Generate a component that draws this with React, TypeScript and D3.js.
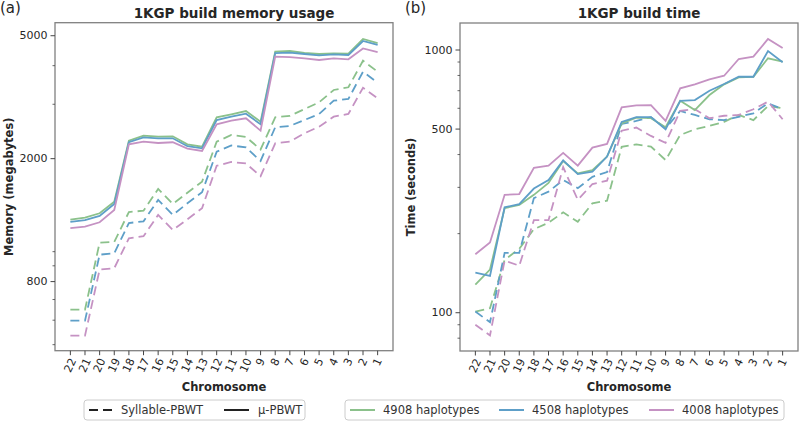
import React from 'react';
import * as d3 from 'd3';

// chromosomes, left to right
const chromosomes = ['22', '21', '20', '19', '18', '17', '16', '15', '14', '13', '12', '11', '10', '9', '8', '7', '6', '5', '4', '3', '2', '1'];

// memory (megabytes)
const memMu4908 = [1269, 1289, 1331, 1451, 2287, 2374, 2356, 2363, 2226, 2187, 2723, 2784, 2853, 2634, 4439, 4462, 4396, 4364, 4387, 4374, 4880, 4736];
const memMu4508 = [1248, 1264, 1305, 1427, 2260, 2345, 2328, 2328, 2194, 2161, 2668, 2735, 2797, 2584, 4396, 4410, 4364, 4322, 4350, 4332, 4808, 4667];
const memMu4008 = [1191, 1205, 1245, 1365, 2226, 2270, 2248, 2260, 2155, 2118, 2584, 2655, 2702, 2464, 4277, 4265, 4226, 4173, 4226, 4195, 4547, 4429];
const memSyl4908 = [649, 649, 1070, 1075, 1344, 1357, 1596, 1427, 1552, 1685, 2270, 2386, 2351, 2142, 2723, 2750, 2895, 3044, 3337, 3405, 4151, 3824];
const memSyl4508 = [598, 598, 978, 988, 1238, 1254, 1470, 1315, 1434, 1557, 2107, 2207, 2174, 1966, 2527, 2552, 2668, 2791, 3081, 3120, 3824, 3524];
const memSyl4008 = [535, 535, 875, 884, 1105, 1122, 1315, 1176, 1273, 1382, 1898, 1951, 1930, 1755, 2243, 2270, 2417, 2538, 2735, 2791, 3394, 3137];

// build time (seconds)
const timeMu4908 = [128, 146, 250, 257, 281, 312, 378, 339, 349, 393, 525, 553, 550, 508, 641, 591, 674, 740, 787, 791, 930, 903];
const timeMu4508 = [142, 138, 252, 259, 297, 320, 380, 337, 344, 393, 532, 555, 555, 499, 640, 645, 700, 742, 791, 791, 991, 898];
const timeMu4008 = [167, 185, 281, 283, 356, 363, 406, 363, 425, 439, 605, 615, 617, 537, 715, 740, 773, 798, 924, 943, 1101, 1018];
const timeSyl4908 = [101, 104, 159, 175, 208, 220, 241, 222, 261, 267, 428, 437, 429, 381, 475, 499, 514, 533, 566, 541, 612, 600];
const timeSyl4508 = [101, 92, 169, 169, 273, 289, 320, 298, 329, 343, 523, 537, 555, 503, 586, 566, 545, 541, 557, 574, 627, 595];
const timeSyl4008 = [90, 82, 158, 151, 225, 225, 358, 269, 309, 318, 493, 507, 471, 443, 587, 595, 550, 562, 566, 595, 636, 545];

const memMajorTicks = [800, 2000, 5000];
const memMinorTicks = [500, 600, 700, 900, 1000, 3000, 4000];
const timeMajorTicks = [100, 500, 1000];
const timeMinorTicks = [80, 90, 200, 300, 400, 600, 700, 800, 900];

const haplotypes = ['4908 haplotypes', '4508 haplotypes', '4008 haplotypes'];
const colors = ['#8bc18b', '#5e9fc8', '#c592c3'];

const FONT = 'DejaVu Sans, sans-serif';
const TEXT = '#262626';
const DASH = '9,5';

interface PanelProps {
  x0: number;
  x1: number;
  y0: number;
  y1: number;
  domain: [number, number];
  mu: number[][];
  syl: number[][];
  majorTicks: number[];
  minorTicks: number[];
  title: string;
  ylabel: string;
  ylabelX: number;
  tag: string;
  tagX: number;
}

const Panel: React.FC<PanelProps> = ({ x0, x1, y0, y1, domain, mu, syl, majorTicks, minorTicks, title, ylabel, ylabelX, tag, tagX }) => {
  const x = d3.scalePoint<string>().domain(chromosomes).range([x0, x1]).padding(1.05);
  const y = d3.scaleLog().domain(domain).range([y1, y0]);
  const line = d3.line<number>()
    .x((_, i) => x(chromosomes[i]) as number)
    .y(d => y(d));
  const cx = (x0 + x1) / 2;
  const cy = (y0 + y1) / 2;
  const theta = (65 * Math.PI) / 180;

  return (
    <g fontFamily={FONT}>
      <text x={tagX} y={13} fontSize={15} fill={TEXT}>{tag}</text>
      <text x={cx + 10} y={18} fontSize={13.5} fontWeight="bold" textAnchor="middle" fill={TEXT}>{title}</text>

      {/* series */}
      {syl.map((s, k) => (
        <path key={`s${k}`} d={line(s) || ''} fill="none" stroke={colors[k]} strokeWidth={1.8} strokeDasharray={DASH} />
      ))}
      {mu.map((s, k) => (
        <path key={`m${k}`} d={line(s) || ''} fill="none" stroke={colors[k]} strokeWidth={1.8} />
      ))}

      {/* frame */}
      <rect x={x0} y={y0} width={x1 - x0} height={y1 - y0} fill="none" stroke="#808080" strokeWidth={1.3} />

      {/* y ticks */}
      {minorTicks.map(t => (
        <line key={`mi${t}`} x1={x0 - 2.5} x2={x0} y1={y(t)} y2={y(t)} stroke="#444" strokeWidth={0.8} />
      ))}
      {majorTicks.map(t => (
        <g key={`ma${t}`}>
          <line x1={x0 - 4.5} x2={x0} y1={y(t)} y2={y(t)} stroke="#444" strokeWidth={1} />
          <text x={x0 - 7.5} y={y(t)} fontSize={11} textAnchor="end" dominantBaseline="central" fill={TEXT}>{t}</text>
        </g>
      ))}

      {/* x ticks */}
      {chromosomes.map(c => {
        const px = x(c) as number;
        const w = c.length * 0.636 * 11;
        const bh = w * Math.sin(theta) + 11 * Math.cos(theta);
        const ty = y1 + 6 + bh / 2;
        return (
          <g key={`x${c}`}>
            <line x1={px} x2={px} y1={y1} y2={y1 + 4.5} stroke="#444" strokeWidth={1} />
            <text transform={`translate(${px},${ty}) rotate(-65)`} fontSize={11} textAnchor="middle" dominantBaseline="central" fill={TEXT}>{c}</text>
          </g>
        );
      })}

      <text x={cx} y={387} fontSize={11.5} fontWeight="bold" textAnchor="middle" dominantBaseline="central" fill={TEXT}>Chromosome</text>
      <text transform={`translate(${ylabelX},${cy}) rotate(-90)`} fontSize={11.5} fontWeight="bold" textAnchor="middle" dominantBaseline="central" fill={TEXT}>{ylabel}</text>
    </g>
  );
};

const App: React.FC = () => {
  return (
    <div style={{ position: 'absolute', left: 0, top: 0 }}>
      <svg width={799} height={421} style={{ display: 'block', background: '#fff' }}>
        <Panel
          x0={55} x1={393} y0={22.7} y1={350.7}
          domain={[478, 5510]}
          mu={[memMu4908, memMu4508, memMu4008]}
          syl={[memSyl4908, memSyl4508, memSyl4008]}
          majorTicks={memMajorTicks}
          minorTicks={memMinorTicks}
          title="1KGP build memory usage"
          ylabel="Memory (megabytes)"
          ylabelX={9}
          tag="(a)"
          tagX={0}
        />
        <Panel
          x0={460} x1={798} y0={23} y1={351}
          domain={[71.5, 1267]}
          mu={[timeMu4908, timeMu4508, timeMu4008]}
          syl={[timeSyl4908, timeSyl4508, timeSyl4008]}
          majorTicks={timeMajorTicks}
          minorTicks={timeMinorTicks}
          title="1KGP build time"
          ylabel="Time (seconds)"
          ylabelX={411}
          tag="(b)"
          tagX={405}
        />

        {/* legends */}
        <g fontFamily={FONT} fontSize={11.5} fill="#333">
          <rect x={84} y={400} width={221} height={20} rx={3} fill="#fff" stroke="#cccccc" strokeWidth={1} />
          <line x1={89} x2={114} y1={410} y2={410} stroke="#222" strokeWidth={2} strokeDasharray={DASH} />
          <text x={121} y={410} dominantBaseline="central">Syllable-PBWT</text>
          <line x1={224} x2={249} y1={410} y2={410} stroke="#222" strokeWidth={2} />
          <text x={258} y={410} dominantBaseline="central">μ-PBWT</text>

          <rect x={345} y={400} width={439} height={20} rx={3} fill="#fff" stroke="#cccccc" strokeWidth={1} />
          {haplotypes.map((h, i) => {
            const lx = [350, 499, 649][i];
            return (
              <g key={h}>
                <line x1={lx} x2={lx + 25} y1={410} y2={410} stroke={colors[i]} strokeWidth={2} />
                <text x={lx + 33} y={410} dominantBaseline="central">{h}</text>
              </g>
            );
          })}
        </g>
      </svg>
    </div>
  );
};

export default App;
